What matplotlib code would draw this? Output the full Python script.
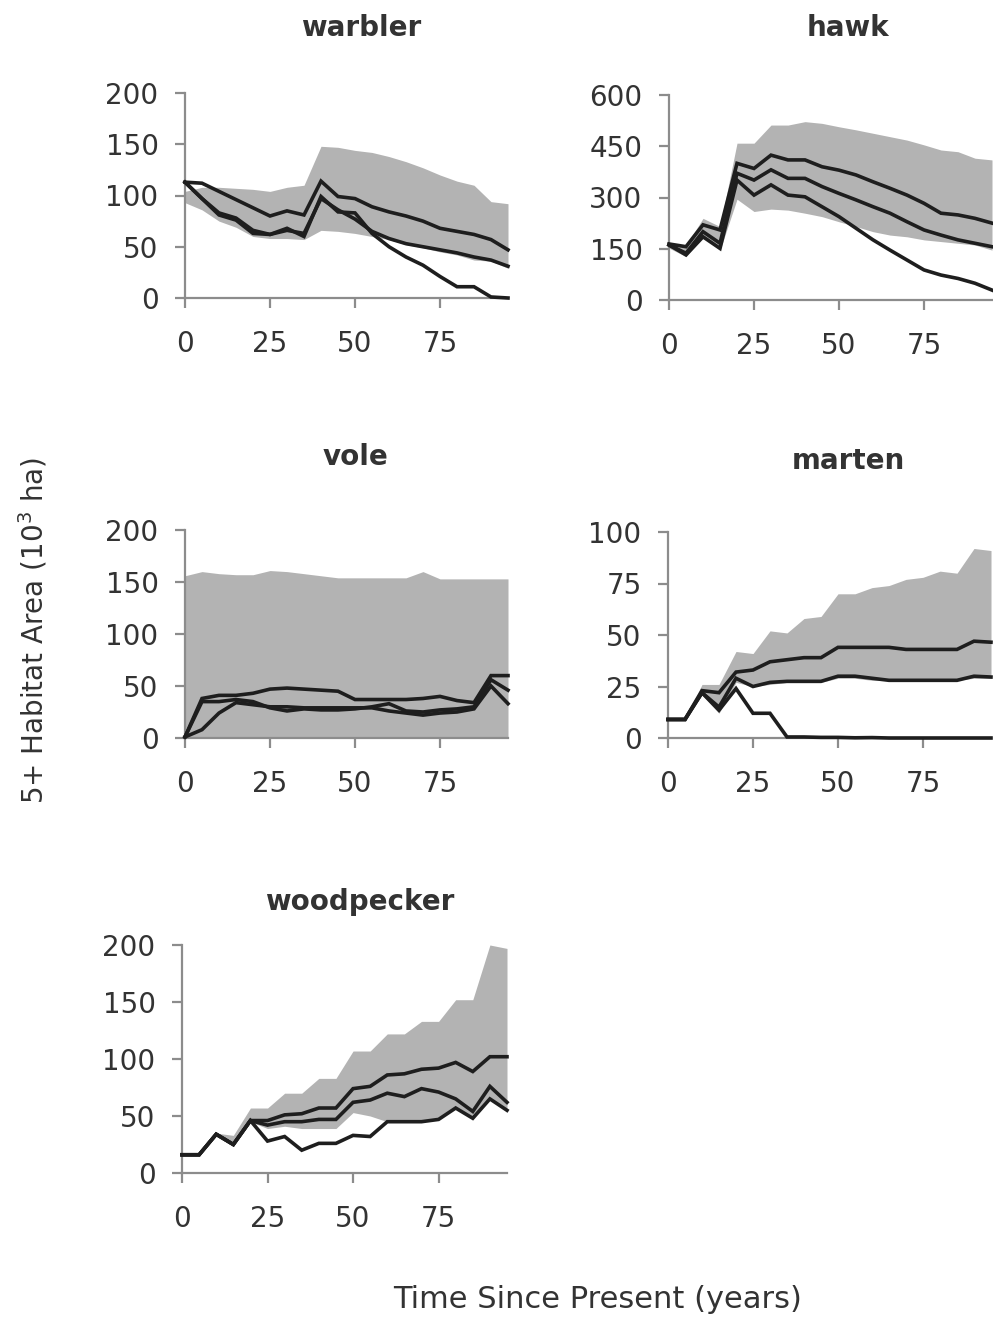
import matplotlib
matplotlib.use("Agg")
import matplotlib.pyplot as plt

# time axis (years since present), one value every 5 years
years = [0, 5, 10, 15, 20, 25, 30, 35, 40, 45, 50, 55, 60, 65, 70, 75, 80, 85, 90, 95]

# warbler: range band and three scenario lines
warbler_hi = [104, 108, 108, 107, 106, 104, 108, 110, 148, 147, 144, 142, 138, 133, 127, 120, 114, 110, 94, 92]
warbler_lo = [93, 86, 75, 69, 60, 58, 58, 57, 66, 65, 63, 60, 57, 52, 49, 45, 42, 37, 36, 29]
warbler_a = [113, 112, 104, 96, 88, 80, 85, 81, 114, 99, 97, 89, 84, 80, 75, 68, 65, 62, 57, 47]
warbler_b = [113, 97, 83, 78, 66, 62, 66, 63, 97, 86, 77, 65, 58, 53, 50, 47, 44, 40, 37, 31]
warbler_c = [113, 97, 81, 76, 63, 62, 68, 60, 99, 84, 83, 63, 50, 40, 32, 21, 11, 11, 1, 0]

# hawk
hawk_hi = [166, 160, 239, 215, 459, 459, 512, 512, 522, 517, 507, 498, 488, 478, 468, 454, 439, 434, 415, 410]
hawk_lo = [152, 127, 185, 146, 295, 259, 266, 263, 254, 244, 229, 215, 200, 190, 185, 176, 171, 166, 161, 146]
hawk_a = [164, 156, 220, 205, 400, 385, 424, 410, 410, 390, 380, 366, 346, 327, 307, 283, 254, 249, 239, 225]
hawk_b = [161, 137, 200, 166, 371, 351, 381, 356, 356, 332, 312, 293, 273, 254, 229, 205, 190, 176, 166, 156]
hawk_c = [161, 132, 185, 151, 351, 307, 337, 307, 302, 273, 244, 210, 176, 146, 117, 88, 73, 63, 49, 29]

# vole
vole_hi = [156, 160, 158, 157, 157, 161, 160, 158, 156, 154, 154, 154, 154, 154, 160, 153, 153, 153, 153, 153]
vole_lo = [0, 0, 0, 0, 0, 0, 0, 0, 0, 0, 0, 0, 0, 0, 0, 0, 0, 0, 0, 0]
vole_a = [1, 38, 41, 41, 43, 47, 48, 47, 46, 45, 37, 37, 37, 37, 38, 40, 36, 34, 60, 60]
vole_b = [1, 35, 35, 37, 35, 29, 26, 28, 27, 27, 28, 30, 33, 26, 25, 27, 28, 30, 56, 46]
vole_c = [1, 8, 24, 34, 32, 30, 30, 29, 29, 29, 29, 29, 26, 24, 22, 24, 25, 28, 50, 33]

# marten
marten_hi = [9, 9, 26, 26, 42, 41, 52, 51, 58, 59, 70, 70, 73, 74, 77, 78, 81, 80, 92, 91]
marten_lo = [9, 9, 21, 12, 27, 25, 26, 27, 27, 27, 29, 29, 28, 28, 28, 28, 28, 28, 29, 29]
marten_a = [9, 9, 23, 22, 32, 33, 37, 38, 39, 39, 44, 44, 44, 44, 43, 43, 43, 43, 47, 46.5]
marten_b = [9, 9, 22, 15, 29, 25, 27, 27.5, 27.5, 27.5, 30, 30, 29, 28, 28, 28, 28, 28, 30, 29.6]
marten_c = [9, 9, 22, 13.5, 24, 12, 12, 0.5, 0.5, 0.3, 0.3, 0.1, 0.2, 0, 0, 0, 0, 0, 0, 0]

# woodpecker
wood_hi = [15, 15, 35, 33, 57, 57, 70, 70, 83, 83, 107, 107, 122, 122, 133, 133, 152, 152, 200, 197]
wood_lo = [15, 15, 33, 25, 45, 39, 41, 39, 39, 39, 53, 50, 45, 45, 45, 47, 57, 48, 65, 55]
wood_a = [16, 16, 34, 25, 46, 46, 51, 52, 57, 57, 74, 76, 86, 87, 91, 92, 97, 89, 102, 102]
wood_b = [16, 16, 34, 25, 46, 42, 45, 45, 47, 47, 62, 64, 70, 67, 74, 71, 65, 54, 76, 62]
wood_c = [16, 16, 34, 25, 46, 28, 32, 20, 26, 26, 33, 32, 45, 45, 45, 47, 57, 48, 65, 55]

W, H = 993.0, 1318.0
fig = plt.figure(figsize=(W / 100, H / 100), dpi=100)

axis_grey = "#8c8c8c"
text_grey = "#333333"


def px_rect(left, bottom, width, height):
    # pixel box (top-left origin) -> figure fraction
    return [left / W, (H - bottom) / H, width / W, height / H]


def panel(rect, hi, lo, lines, ymax, ystep):
    ax = fig.add_axes(rect)
    ax.fill_between(years, lo, hi, color="#b3b3b3", lw=0)
    for ys in lines:
        ax.plot(years, ys, color="#1e1e1e", lw=2.6, clip_on=False, zorder=5,
                solid_joinstyle="miter")
    ax.set_xlim(0, 95)
    ax.set_ylim(0, ymax)
    ax.set_xticks([0, 25, 50, 75])
    ax.set_yticks(list(range(0, ymax + 1, ystep)))
    for s in ["top", "right"]:
        ax.spines[s].set_visible(False)
    for s in ["left", "bottom"]:
        ax.spines[s].set_color(axis_grey)
        ax.spines[s].set_linewidth(1.6)
    ax.tick_params(direction="out", length=7, width=1.6, color=axis_grey,
                   labelcolor=text_grey, labelsize=20)
    ax.tick_params(axis="y", pad=12)
    ax.tick_params(axis="x", pad=16)
    ax.patch.set_alpha(0)
    return ax


panel(px_rect(185, 298, 323, 205), warbler_hi, warbler_lo,
      [warbler_a, warbler_b, warbler_c], 200, 50)
panel(px_rect(669, 300, 323, 205), hawk_hi, hawk_lo,
      [hawk_a, hawk_b, hawk_c], 600, 150)
panel(px_rect(185, 738, 323, 208), vole_hi, vole_lo,
      [vole_a, vole_b, vole_c], 200, 50)
panel(px_rect(668, 738, 323, 206), marten_hi, marten_lo,
      [marten_a, marten_b, marten_c], 100, 25)
panel(px_rect(182, 1173, 325, 228), wood_hi, wood_lo,
      [wood_a, wood_b, wood_c], 200, 50)

# panel titles
titles = ["warbler", "hawk", "vole", "marten", "woodpecker"]
title_px = [(361, 28), (848, 28), (355, 457), (848, 461), (360, 902)]
for name, (tx, ty) in zip(titles, title_px):
    fig.text(tx / W, 1 - ty / H, name, ha="center", va="center",
             fontsize=20, fontweight="bold", color=text_grey)

fig.text(33 / W, 1 - 630 / H, r"5+ Habitat Area (10$^3$ ha)", rotation=90,
         ha="center", va="center", fontsize=20, color=text_grey)
fig.text(598 / W, 1 - 1300 / H, "Time Since Present (years)",
         ha="center", va="center", fontsize=22, color=text_grey)

fig.savefig("out.png", dpi=100)
